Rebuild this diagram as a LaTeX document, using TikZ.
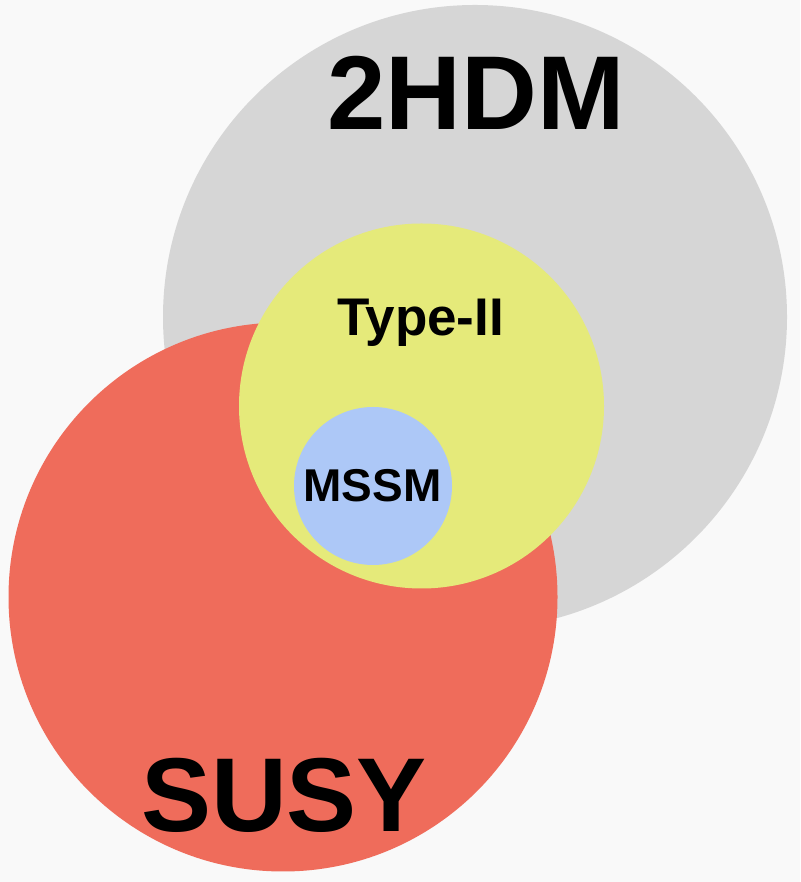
\documentclass[tikz,border=0pt]{standalone}
\usepackage{fontspec}
\setmainfont{Liberation Sans}
\definecolor{bgcol}{RGB}{249,249,249}
\definecolor{hdmcol}{RGB}{214,214,214}
\definecolor{susycol}{RGB}{239,108,91}
\definecolor{typecol}{RGB}{229,234,122}
\definecolor{mssmcol}{RGB}{173,200,247}
\tikzset{
  setlbl/.style={anchor=base,inner sep=0pt,font=\bfseries\fontsize{#1}{#1}\selectfont}
}
\begin{document}
\begin{tikzpicture}[x=1pt,y=1pt]
 \fill[bgcol](0,0) rectangle (800,882);
 \useasboundingbox (0,0) rectangle (800,882);
 % sets
 \fill[hdmcol](475,565) circle (312);
 \fill[susycol](283,285) circle (274.5);
 \fill[typecol](421.5,476) circle (182.5);
 \fill[mssmcol](373,396) circle (79);
 % labels
 \node[setlbl=105] (hdm) at (476,752) {2HDM};
 \node[setlbl=53] (type) at (420.5,546) {Type-II};
 \node[setlbl=46] (mssm) at (372.5,380) {MSSM};
 \node[setlbl=105] (susy) at (284,50) {SUSY};
\end{tikzpicture}
\end{document}
